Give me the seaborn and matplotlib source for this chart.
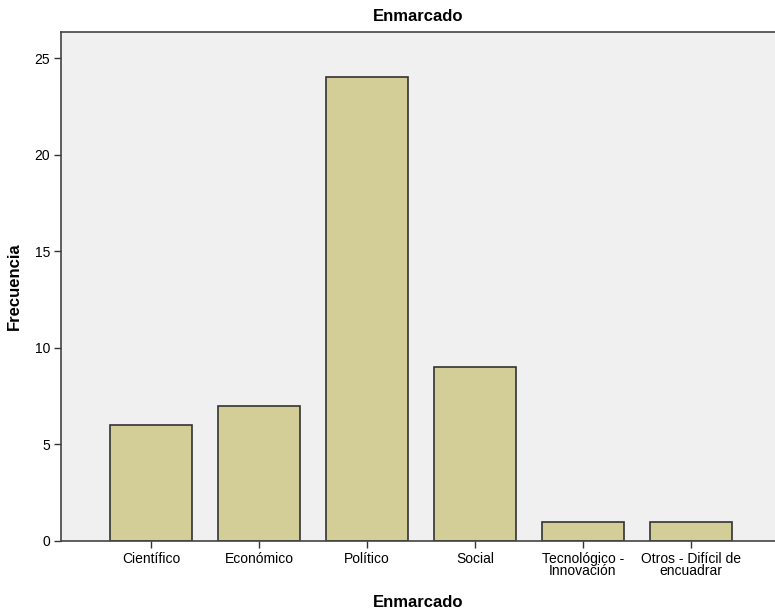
import matplotlib
matplotlib.use("Agg")
import matplotlib.pyplot as plt
import seaborn as sns
import pandas as pd

categories = ["Científico", "Económico", "Político", "Social",
              "Tecnológico -\nInnovación", "Otros - Difícil de\nencuadrar"]
values = [6, 7, 24, 9, 1, 1]
yticks = [0, 5, 10, 15, 20, 25]

sns.set_style("white")
plt.rcParams["font.family"] = ["Liberation Sans", "DejaVu Sans"]
plt.rcParams["text.color"] = "black"
plt.rcParams["axes.labelcolor"] = "black"
plt.rcParams["xtick.color"] = "black"
plt.rcParams["ytick.color"] = "black"

df = pd.DataFrame({"cat": categories, "freq": values})

fig = plt.figure(figsize=(7.75, 6.16), dpi=100)
ax = fig.add_axes([61/775, 75/616, 714/775, 509/616])
ax.set_facecolor("#F0F0F0")
sns.barplot(data=df, x="cat", y="freq", color="#D3CE97", saturation=1,
            width=0.76, edgecolor="#333333", linewidth=1.2, ax=ax)
ax.set_xlim(-0.833, 5.78)
ax.set_ylim(0, 26.35)
ax.set_yticks(yticks)
ax.set_yticklabels([str(v) for v in yticks], fontsize=10)
ax.set_xticks(range(len(categories)))
ax.set_xticklabels(categories, fontsize=10, linespacing=0.85)
ax.tick_params(axis="both", which="both", length=5, width=1, color="#333333",
               direction="out", bottom=True, left=True, pad=3)
for s in ["left", "bottom", "top"]:
    ax.spines[s].set_visible(True)
    ax.spines[s].set_color("#444444")
    ax.spines[s].set_linewidth(1.2)
ax.spines["right"].set_visible(False)
ax.set_xlabel("Enmarcado", fontsize=12, fontweight="bold", labelpad=12)
ax.set_ylabel("Frecuencia", fontsize=12, fontweight="bold", labelpad=9)
ax.set_title("Enmarcado", fontsize=12, fontweight="bold", pad=8)
fig.savefig("out.png", dpi=100)
